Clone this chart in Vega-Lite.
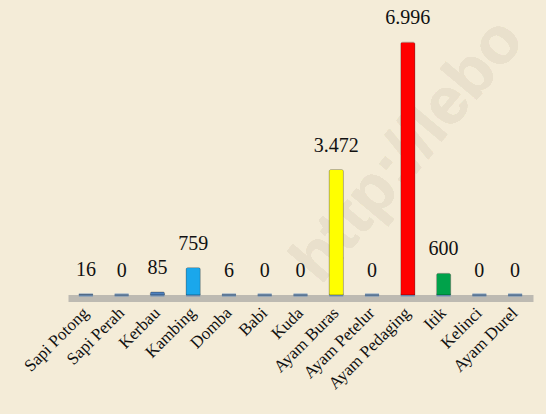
{
  "$schema": "https://vega.github.io/schema/vega-lite/v6.json",
  "width": 465,
  "height": 253,
  "autosize": "none",
  "padding": {"left": 68, "top": 42, "right": 13, "bottom": 119},
  "background": "#f4ecd8",
  "config": {
    "view": {"stroke": null},
    "font": "Liberation Serif"
  },
  "data": {
    "values": [
      {"jenis": "Sapi Potong", "jumlah": 16, "label": "16", "warna": "#4f81bd"},
      {"jenis": "Sapi Perah", "jumlah": 0, "label": "0", "warna": "#4f81bd"},
      {"jenis": "Kerbau", "jumlah": 85, "label": "85", "warna": "#4f81bd"},
      {"jenis": "Kambing", "jumlah": 759, "label": "759", "warna": "#1aa7ec"},
      {"jenis": "Domba", "jumlah": 6, "label": "6", "warna": "#4f81bd"},
      {"jenis": "Babi", "jumlah": 0, "label": "0", "warna": "#4f81bd"},
      {"jenis": "Kuda", "jumlah": 0, "label": "0", "warna": "#4f81bd"},
      {"jenis": "Ayam Buras", "jumlah": 3472, "label": "3.472", "warna": "#ffff00"},
      {"jenis": "Ayam Petelur", "jumlah": 0, "label": "0", "warna": "#4f81bd"},
      {"jenis": "Ayam Pedaging", "jumlah": 6996, "label": "6.996", "warna": "#ff0000"},
      {"jenis": "Itik", "jumlah": 600, "label": "600", "warna": "#00a24a"},
      {"jenis": "Kelinci", "jumlah": 0, "label": "0", "warna": "#4f81bd"},
      {"jenis": "Ayam Durel", "jumlah": 0, "label": "0", "warna": "#4f81bd"}
    ]
  },
  "encoding": {
    "x": {
      "field": "jenis",
      "type": "nominal",
      "sort": null,
      "scale": {
        "domain": ["Sapi Potong", "Sapi Perah", "Kerbau", "Kambing", "Domba", "Babi", "Kuda", "Ayam Buras", "Ayam Petelur", "Ayam Pedaging", "Itik", "Kelinci", "Ayam Durel"],
        "paddingInner": 0.6,
        "paddingOuter": 0.3
      },
      "axis": {
        "title": null,
        "labelAngle": -45,
        "labelAlign": "right",
        "labelBaseline": "middle",
        "labelFont": "Liberation Serif",
        "labelFontSize": 17,
        "labelColor": "#111111",
        "labelPadding": 12,
        "ticks": false,
        "domainColor": "#bdbab2",
        "domainWidth": 7,
        "offset": 3
      }
    }
  },
  "layer": [
    {
      "mark": {"type": "text", "text": "http://lebo", "angle": -50, "fontSize": 66, "fontWeight": "bold", "font": "Liberation Sans", "color": "#e9e0cc", "align": "center", "baseline": "middle"},
      "encoding": {
        "x": {"datum": "Ayam Pedaging"},
        "y": {"datum": 4000, "type": "quantitative", "scale": {"domain": [0, 7000]}, "axis": null}
      }
    },
    {
      "mark": {"type": "tick", "color": "#4f81bd", "thickness": 3, "size": 14},
      "encoding": {"y": {"datum": 0, "type": "quantitative", "scale": {"domain": [0, 7000]}, "axis": null}}
    },
    {
      "mark": {"type": "bar", "cornerRadiusEnd": 2, "stroke": "#00000033", "strokeWidth": 1},
      "encoding": {
        "y": {"field": "jumlah", "type": "quantitative", "scale": {"domain": [0, 7000]}, "axis": null},
        "color": {"field": "warna", "type": "nominal", "scale": null}
      }
    },
    {
      "mark": {"type": "text", "baseline": "bottom", "dy": -14, "fontSize": 20, "font": "Liberation Serif", "color": "#111111"},
      "encoding": {
        "y": {"field": "jumlah", "type": "quantitative", "scale": {"domain": [0, 7000]}, "axis": null},
        "text": {"field": "label", "type": "nominal"}
      }
    }
  ]
}
